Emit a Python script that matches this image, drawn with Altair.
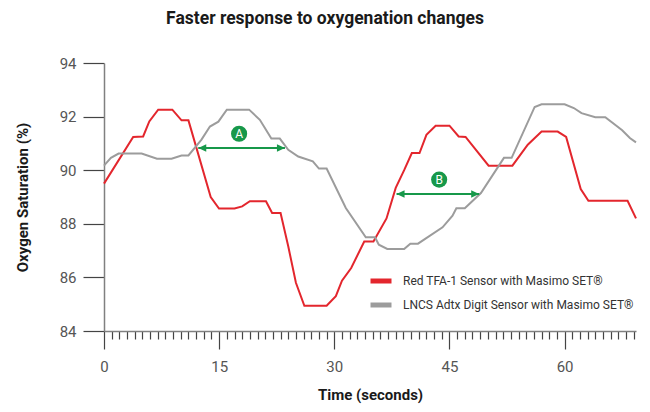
import altair as alt
import pandas as pd

# ---- data ----
red_t = [0, 3.8, 5.1, 5.9, 7.06, 8.9, 10.1, 11.0, 13.9, 14.98, 17.0, 18.0, 19.0,
         21.1, 21.9, 23.0, 24.0, 25.0, 26.1, 29.0, 30.2, 31.0, 32.2, 33.9, 35.1,
         36.8, 38.0, 39.1, 40.1, 41.1, 42.0, 43.2, 45.0, 46.2, 47.1, 50.1, 53.2,
         55.2, 57.0, 59.1, 60.2, 62.1, 63.1, 68.2, 69.3]
red_v = [89.5, 91.24, 91.26, 91.82, 92.26, 92.26, 91.86, 91.86, 89.0, 88.57, 88.57, 88.65, 88.84,
         88.84, 88.4, 88.4, 87.16, 85.8, 84.94, 84.94, 85.3, 85.88, 86.35, 87.34, 87.34,
         88.2, 89.34, 90.0, 90.64, 90.64, 91.32, 91.66, 91.66, 91.26, 91.24, 90.17, 90.17,
         90.95, 91.44, 91.44, 91.24, 89.3, 88.86, 88.86, 88.2]

gray_t = [0, 0.9, 1.9, 4.9, 6.9, 8.8, 10.1, 11.0, 12.7, 13.8, 14.9, 16.0, 18.9, 20.3,
          21.8, 22.9, 24.0, 25.3, 27.2, 28.0, 29.0, 31.5, 34.1, 35.3, 35.8, 36.9, 39.1,
          39.9, 40.9, 44.1, 45.4, 45.9, 47.0, 49.1, 52.1, 53.1, 56.1, 57.0, 60.0, 61.2,
          62.2, 64.0, 65.3, 67.5, 68.5, 69.3]
gray_v = [90.17, 90.46, 90.62, 90.62, 90.43, 90.43, 90.55, 90.55, 91.14, 91.63, 91.81, 92.26, 92.26, 91.88,
          91.18, 91.18, 90.76, 90.51, 90.33, 90.06, 90.06, 88.59, 87.5, 87.5, 87.22, 87.06, 87.06,
          87.26, 87.26, 87.87, 88.3, 88.58, 88.58, 89.15, 90.46, 90.46, 92.36, 92.46, 92.46, 92.32,
          92.13, 91.98, 91.98, 91.49, 91.2, 91.04]

series_names = ["Red TFA-1 Sensor with Masimo SET®", "LNCS Adtx Digit Sensor with Masimo SET®"]
series_colors = ["#e3262d", "#9c9c9c"]

x_minor = list(range(0, 70))
y_ticks = [84, 86, 88, 90, 92, 94]

arrow_labels = ["A", "B"]
arrow_start = [12.28, 38.11]
arrow_end = [23.57, 48.87]
arrow_level = [90.83, 89.11]
badge_t = [17.6, 43.66]
badge_v = [91.36, 89.65]

GREEN = "#17984a"
FONT = "Roboto"

lines_df = pd.DataFrame(
    {"t": red_t + gray_t,
     "v": red_v + gray_v,
     "series": [series_names[0]] * len(red_t) + [series_names[1]] * len(gray_t),
     "order": list(range(len(red_t))) + list(range(len(gray_t)))}
)
arrows_df = pd.DataFrame({"label": arrow_labels, "start": arrow_start, "end": arrow_end,
                          "level": arrow_level, "bt": badge_t, "bv": badge_v})

x_scale = alt.Scale(domain=[0, 69.3], nice=False, zero=False)
y_scale = alt.Scale(domain=[84, 94], nice=False, zero=False)

x_axis = alt.Axis(
    values=x_minor,
    labelExpr="datum.value % 15 === 0 ? datum.label : ''",
    tickSize={"condition": {"test": "datum.value % 15 === 0", "value": 18}, "value": 8},
    tickColor="#444", tickWidth=1.2,
    domainColor="#808080", domainWidth=1.5,
    labelFlush=False, labelOverlap=False,
    labelFont=FONT, labelFontSize=15, labelColor="#555", labelPadding=10,
    grid=False,
    title="Time (seconds)", titleFont=FONT, titleFontSize=15, titleFontWeight="bold",
    titleColor="#1a1a1a", titleY=68, titleBaseline="alphabetic",
)
y_axis = alt.Axis(
    values=y_ticks, tickSize=21, tickColor="#444", tickWidth=1.2,
    domainColor="#808080", domainWidth=1.5,
    labelFont=FONT, labelFontSize=15, labelColor="#555", labelPadding=7,
    grid=False,
    title="Oxygen Saturation (%)", titleFont=FONT, titleFontSize=15, titleFontWeight="bold",
    titleColor="#1a1a1a", titleX=-82, titleY=134, titleAngle=270,
    titleAlign="center", titleBaseline="middle",
)


def X(field):
    return alt.X(field, type="quantitative", scale=x_scale, axis=x_axis)


def Y(field):
    return alt.Y(field, type="quantitative", scale=y_scale, axis=y_axis)


lines = alt.Chart(lines_df).mark_line(strokeWidth=2).encode(
    x=X("t"),
    y=Y("v"),
    color=alt.Color(
        "series:N",
        scale=alt.Scale(domain=series_names, range=series_colors),
        sort=series_names,
        legend=alt.Legend(
            orient="none", legendX=264, legendY=205, title=None,
            symbolType="stroke", symbolStrokeWidth=5, symbolSize=441,
            labelFont=FONT, labelFontSize=12, labelColor="#333", labelOffset=9,
            labelLimit=0, rowPadding=1, padding=0,
        ),
    ),
    order="order:Q",
)

rules = alt.Chart(arrows_df).mark_rule(color=GREEN, strokeWidth=2).encode(
    x=X("start"), x2="end:Q", y=Y("level"),
)
head_left = alt.Chart(arrows_df).mark_point(
    shape="M0,0L1.6,-0.75L1.6,0.75Z", filled=True, size=100, color=GREEN, opacity=1, strokeWidth=0
).encode(x=X("start"), y=Y("level"))
head_right = alt.Chart(arrows_df).mark_point(
    shape="M0,0L-1.6,-0.75L-1.6,0.75Z", filled=True, size=100, color=GREEN, opacity=1, strokeWidth=0
).encode(x=X("end"), y=Y("level"))
badges = alt.Chart(arrows_df).mark_point(
    shape="circle", filled=True, size=260, color=GREEN, opacity=1, strokeWidth=0
).encode(x=X("bt"), y=Y("bv"))
badge_text = alt.Chart(arrows_df).mark_text(
    color="white", font=FONT, fontSize=12, baseline="middle", align="center", dy=0.5
).encode(x=X("bt"), y=Y("bv"), text="label:N")

chart = alt.layer(lines, rules, head_left, head_right, badges, badge_text).properties(
    width=532, height=268,
    padding={"left": 96, "top": 55, "right": 6, "bottom": 73},
    autosize=alt.AutoSizeParams(type="none"),
    background="white",
    title=alt.Title(
        "Faster response to oxygenation changes", font=FONT, fontSize=17.5, fontWeight="bold",
        color="#1a1a1a", anchor="middle", dx=-45, offset=29,
    ),
).configure_view(stroke=None)

chart.save("out.html", embed_options={"renderer": "svg", "actions": False})
